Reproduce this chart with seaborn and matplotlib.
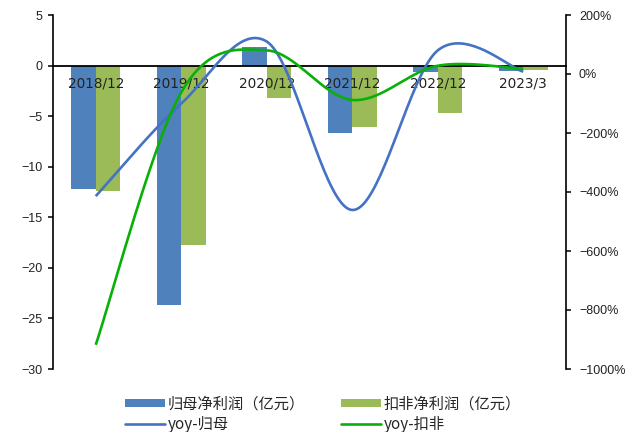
import numpy as np
import pandas as pd
import matplotlib
matplotlib.use("Agg")
import matplotlib.pyplot as plt
import seaborn as sns
from matplotlib.ticker import FixedLocator, FuncFormatter
from matplotlib.patches import Patch
from matplotlib.lines import Line2D

categories = ["2018/12", "2019/12", "2020/12", "2021/12", "2022/12", "2023/3"]
profit_parent = [-12.2, -23.7, 1.87, -6.7, -0.6, -0.5]      # 归母净利润（亿元）
profit_deducted = [-12.4, -17.75, -3.2, -6.05, -4.7, -0.4]  # 扣非净利润（亿元）
yoy_parent = [-414, -100, 110, -461, 80, 8]                 # yoy-归母 (%)
yoy_deducted = [-918, -62, 80, -88, 28, 17]                 # yoy-扣非 (%)

name_parent = "归母净利润（亿元）"
name_deducted = "扣非净利润（亿元）"
name_yoy_parent = "yoy-归母"
name_yoy_deducted = "yoy-扣非"

c_bar_blue = "#4F81BD"
c_bar_green = "#9BBB59"
c_line_blue = "#4472C4"
c_line_green = "#08B008"

sns.set_style("white")
plt.rcParams["font.family"] = ["Liberation Sans", "Noto Sans CJK SC", "DejaVu Sans"]
plt.rcParams["axes.unicode_minus"] = True

df = pd.DataFrame({
    "cat": categories * 2,
    "val": profit_parent + profit_deducted,
    "series": [name_parent] * len(categories) + [name_deducted] * len(categories),
})

fig = plt.figure(figsize=(6.27, 4.32), dpi=100)
ax = fig.add_axes([53 / 627, 1 - 369 / 432, (566 - 53) / 627, (369 - 15) / 432])

sns.barplot(data=df, x="cat", y="val", hue="series", order=categories,
            hue_order=[name_parent, name_deducted],
            palette=[c_bar_blue, c_bar_green], width=0.57, gap=0,
            errorbar=None, ax=ax, legend=False, saturation=1,
            linewidth=0, edgecolor="none")

ax.set_xlim(-0.5, len(categories) - 0.5)
ax.set_ylim(-30, 5)
ax.set_yticks(np.arange(-30, 6, 5))
ax.set_xlabel("")
ax.set_ylabel("")
ax.set_axisbelow(False)

for s in ["top", "right"]:
    ax.spines[s].set_visible(False)
ax.spines["bottom"].set_position(("data", 0))
ax.spines["bottom"].set_linewidth(1.3)
ax.spines["bottom"].set_color("black")
ax.spines["left"].set_linewidth(1.2)
ax.spines["left"].set_color("black")

ax.tick_params(axis="x", which="major", length=0, pad=8, labelsize=9.8,
               labelcolor="#222222")
for lbl in ax.get_xticklabels():
    lbl.set_fontfamily("DejaVu Sans")
ax.xaxis.set_minor_locator(FixedLocator(np.arange(0.5, len(categories) - 0.5, 1)))
ax.tick_params(axis="x", which="minor", direction="in", length=3.8, width=1.1,
               color="black")
ax.tick_params(axis="y", direction="out", length=3.8, width=1.1, color="black",
               labelsize=9, pad=4, labelcolor="#222222")

# smoothed lines (Excel-like Bezier smoothing through the data points)
def smooth(xs, ys, n=40):
    xs = np.asarray(xs, float)
    ys = np.asarray(ys, float)
    P = np.column_stack([xs, ys])
    out = []
    m = len(P)
    for i in range(m - 1):
        p0 = P[i - 1] if i > 0 else P[i]
        p1 = P[i]
        p2 = P[i + 1]
        p3 = P[i + 2] if i + 2 < m else P[i + 1]
        c1 = p1 + (p2 - p0) / 6
        c2 = p2 - (p3 - p1) / 6
        t = np.linspace(0, 1, n)[:, None]
        seg = ((1 - t) ** 3) * p1 + 3 * ((1 - t) ** 2) * t * c1 + 3 * (1 - t) * t ** 2 * c2 + t ** 3 * p2
        out.append(seg if i == 0 else seg[1:])
    out = np.vstack(out)
    return out[:, 0], out[:, 1]

ax2 = ax.twinx()
xpos = np.arange(len(categories))
sx, sy = smooth(xpos, yoy_parent)
ax2.plot(sx, sy, color=c_line_blue, lw=1.9, solid_capstyle="butt")
sx, sy = smooth(xpos, yoy_deducted)
ax2.plot(sx, sy, color=c_line_green, lw=1.9, solid_capstyle="butt")

ax2.set_ylim(-1000, 200)
ax2.set_yticks(np.arange(-1000, 201, 200))
ax2.yaxis.set_major_formatter(FuncFormatter(lambda v, p: f"{v:.0f}%".replace("-", "\u2212")))
for s in ["top", "left", "bottom"]:
    ax2.spines[s].set_visible(False)
ax2.spines["right"].set_linewidth(1.2)
ax2.spines["right"].set_color("black")
ax2.tick_params(axis="y", direction="out", length=3.8, width=1.1, color="black",
                labelsize=9, pad=5.5, labelcolor="#222222")
ax2.set_xlim(-0.5, len(categories) - 0.5)

handles = [
    Patch(facecolor=c_bar_blue, edgecolor="none"),
    Line2D([0], [0], color=c_line_blue, lw=1.9),
    Patch(facecolor=c_bar_green, edgecolor="none"),
    Line2D([0], [0], color=c_line_green, lw=1.9),
]
labels = [name_parent, name_yoy_parent, name_deducted, name_yoy_deducted]
fig.legend(handles, labels, loc="center", bbox_to_anchor=(323 / 627, 1 - 414 / 432),
           ncol=2, frameon=False, handlelength=2.6, handleheight=0.4,
           handletextpad=0.15, columnspacing=2.4, labelspacing=0.2,
           prop={"family": ["Noto Sans CJK SC"], "size": 11})

fig.savefig("out.png", dpi=100)
